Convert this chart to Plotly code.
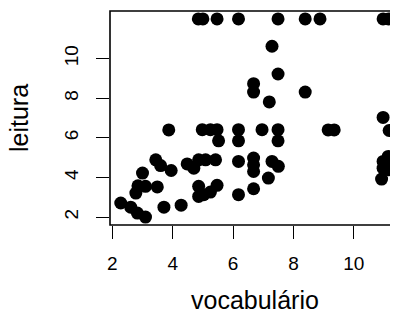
import plotly.graph_objects as go

# === Dados === #
vocabulario = [
    4.85, 5.0, 5.47, 6.18, 7.49, 8.39, 8.88, 10.97, 11.15,
    7.29, 7.49, 6.68, 6.68, 8.39, 7.2, 10.97, 11.17,
    3.87, 4.98, 5.25, 5.47, 6.18, 6.96, 7.49, 9.15, 9.35,
    5.52, 6.18, 7.49,
    3.44, 3.6, 3.95, 3.0, 4.48, 4.7, 4.86, 5.09, 5.42, 6.18,
    6.68, 6.68, 6.68, 7.29, 7.5, 7.17,
    11.14, 10.97, 11.19, 10.97, 11.14, 10.92,
    2.85, 3.1, 3.49, 2.78, 2.28, 2.61, 2.83, 3.1, 3.71, 4.28,
    4.86, 4.86, 5.03, 5.25, 5.47, 6.18, 6.68,
]
leitura = [
    12, 12, 12, 12, 12, 12, 12, 12, 12,
    10.62, 9.22, 8.73, 8.31, 8.31, 7.81, 7.03, 6.37,
    6.4, 6.41, 6.41, 6.41, 6.41, 6.41, 6.41, 6.4, 6.4,
    5.85, 5.85, 5.85,
    4.89, 4.6, 4.35, 4.22, 4.68, 4.47, 4.89, 4.89, 4.89, 4.81,
    4.98, 4.64, 4.3, 4.81, 4.56, 3.97,
    5.06, 4.81, 4.76, 4.47, 4.39, 3.92,
    3.58, 3.55, 3.52, 3.21, 2.71, 2.5, 2.2, 2.0, 2.5, 2.6,
    3.55, 3.04, 3.13, 3.26, 3.6, 3.13, 3.43,
]
x_ticks = [2, 4, 6, 8, 10]
y_ticks = [2, 4, 6, 8, 10]

# === Escalas (como no R: faixa +/- 4%) === #
x0, x1 = min(vocabulario), max(vocabulario)
y0, y1 = min(leitura), max(leitura)
xpad = 0.04 * (x1 - x0)
ypad = 0.04 * (y1 - y0)

# a pagina tem margem de 8px no body
W, H = 390, 316
ml, mt, mb = 102, 3, 99
# area do grafico vai alem da borda direita da imagem
x_lo = x0 - xpad
px_per_unit = (392.5 - ml) / ((x1 + xpad) - x_lo)
x_hi = x_lo + (W - ml) / px_per_unit

fonte = "Arial, Liberation Sans, sans-serif"

fig = go.Figure()
fig.add_trace(go.Scatter(
    x=vocabulario, y=leitura,
    mode="markers",
    marker=dict(color="black", size=13, line=dict(width=0)),
    showlegend=False,
    cliponaxis=False,
))

fig.update_layout(
    width=W, height=H,
    margin=dict(l=ml, r=0, t=mt, b=mb),
    plot_bgcolor="white",
    paper_bgcolor="white",
    font=dict(family=fonte, color="black", size=19),
    xaxis=dict(
        range=[x_lo, x_hi],
        tickvals=x_ticks,
        ticks="outside", ticklen=13, tickwidth=1.3, tickcolor="black",
        ticklabelstandoff=8,
        showgrid=False, zeroline=False, showline=False,
    ),
    yaxis=dict(
        range=[y0 - ypad, y1 + ypad],
        tickvals=y_ticks,
        ticks="outside", ticklen=13, tickwidth=1.3, tickcolor="black",
        tickangle=-90,
        ticklabelstandoff=10,
        showgrid=False, zeroline=False, showline=False,
    ),
    shapes=[dict(
        type="rect", xref="paper", yref="paper",
        x0=0, x1=1.05, y0=0, y1=1,
        line=dict(color="black", width=1.6),
    )],
    annotations=[
        dict(text="vocabulário", xref="x", yref="paper",
             x=(x0 + x1) / 2, y=0, yshift=-75, showarrow=False,
             font=dict(size=25), xanchor="center", yanchor="middle"),
        dict(text="leitura", xref="paper", yref="y",
             x=0, y=(y0 + y1) / 2, xshift=-91, showarrow=False,
             textangle=-90, font=dict(size=25),
             xanchor="center", yanchor="middle"),
    ],
)

fig.write_html("out.html")
